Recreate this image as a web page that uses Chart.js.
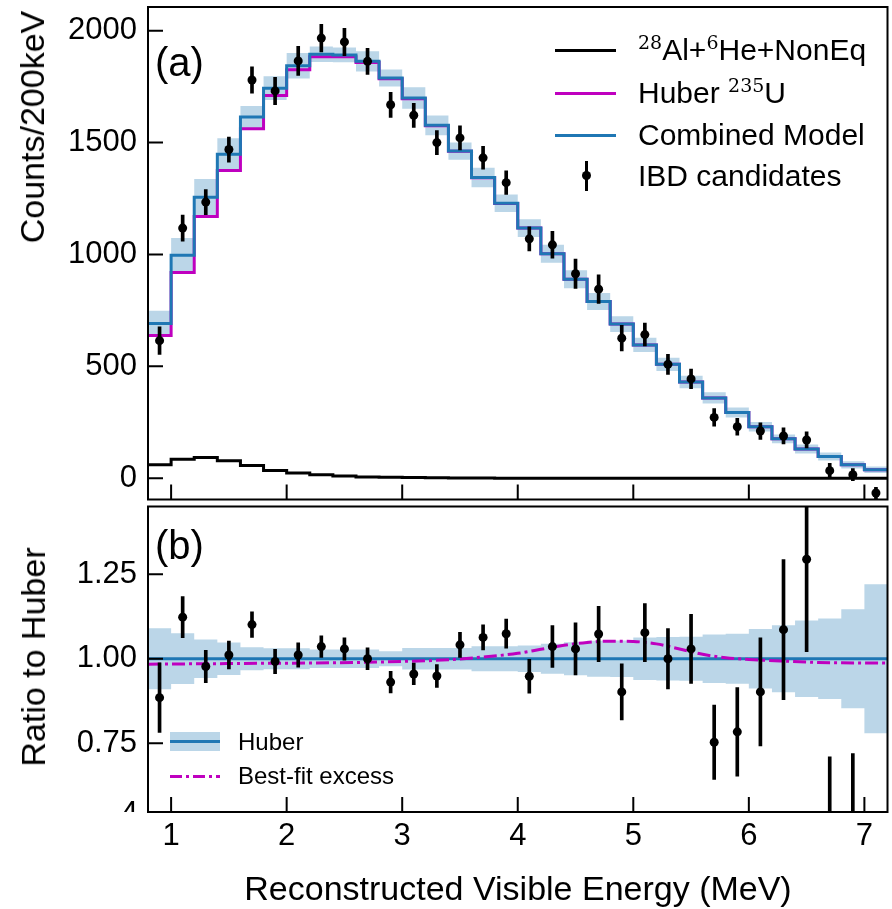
<!DOCTYPE html>
<html>
<head>
<meta charset="utf-8">
<script src="https://cdn.jsdelivr.net/npm/chart.js@4.4.0/dist/chart.umd.min.js"></script>
<style>
  body { margin: 0; background: #fff; }
  #wrap { position: relative; width: 892px; height: 909px; overflow: hidden;
          font-family: 'Liberation Sans', Arial, sans-serif; color: #000; }
  #topChart { position: absolute; left: 0; top: 0; }
  #ratioChart { position: absolute; left: 0; top: 502px; }
  .txt { position: absolute; white-space: nowrap; }
  .rot { transform: translate(-50%, -50%) rotate(-90deg); }
  .swatch { position: absolute; }
  sup { font-family: 'DejaVu Serif', serif; font-size: 19px; vertical-align: 11px; line-height: 0; }
</style>
</head>
<body>
<div id="wrap">
  <canvas id="topChart" width="892" height="504"></canvas>
  <canvas id="ratioChart" width="892" height="407"></canvas>

  <div class="txt rot" style="left:32px; top:127px; font-size:34px; line-height:34px;">Counts/200keV</div>
  <div class="txt rot" style="left:33px; top:657px; font-size:34px; line-height:34px;">Ratio to Huber</div>
  <div class="txt" style="left:518px; top:888px; transform:translate(-50%,-50%); font-size:34px; line-height:34px;">Reconstructed Visible Energy (MeV)</div>

  <div class="txt" style="left:155px; top:42px; font-size:40px; line-height:40px;">(a)</div>
  <div class="txt" style="left:155px; top:525px; font-size:40px; line-height:40px;">(b)</div>

  <!-- legend, panel (a) -->
  <div class="swatch" style="left:555px; top:49px; width:61px; height:3px; background:#000;"></div>
  <div class="swatch" style="left:555px; top:92px; width:61px; height:3px; background:#bf00bf;"></div>
  <div class="swatch" style="left:555px; top:134px; width:61px; height:3px; background:#1f77b4;"></div>
  <div class="swatch" style="left:585px; top:161px; width:3px; height:30px; background:#000;"></div>
  <div class="swatch" style="left:582px; top:171px; width:9px; height:9px; border-radius:50%; background:#000;"></div>
  <div class="txt" style="left:638px; top:35px; font-size:30px; line-height:30px;"><sup>28</sup>Al+<sup>6</sup>He+NonEq</div>
  <div class="txt" style="left:638px; top:78px; font-size:30px; line-height:30px;">Huber <sup>235</sup>U</div>
  <div class="txt" style="left:638px; top:120px; font-size:30px; line-height:30px;">Combined Model</div>
  <div class="txt" style="left:638px; top:161px; font-size:30px; line-height:30px;">IBD candidates</div>

  <!-- legend, panel (b) -->
  <div class="swatch" style="left:170px; top:732px; width:50px; height:19px; background:rgba(31,119,180,0.3);"></div>
  <div class="swatch" style="left:170px; top:740px; width:50px; height:3px; background:#1f77b4;"></div>
  <div class="swatch" style="left:170px; top:775px; width:50px; height:3px;
       background:repeating-linear-gradient(to right,#bf00bf 0 12px,transparent 12px 16px,#bf00bf 16px 19px,transparent 19px 23px);"></div>
  <div class="txt" style="left:238px; top:730px; font-size:24px; line-height:24px;">Huber</div>
  <div class="txt" style="left:238px; top:764px; font-size:24px; line-height:24px;">Best-fit excess</div>

  <div class="txt" style="left:108px; top:797px; width:30px; height:15px; overflow:hidden; text-align:right;">
    <span style="font-size:31px; line-height:31px;">4</span>
  </div>
</div>

<script>
// 200 keV bins
const binEdges = [0.8, 1.0, 1.2, 1.4, 1.6, 1.8, 2.0, 2.2, 2.4, 2.6, 2.8, 3.0, 3.2, 3.4, 3.6, 3.8, 4.0,
                  4.2, 4.4, 4.6, 4.8, 5.0, 5.2, 5.4, 5.6, 5.8, 6.0, 6.2, 6.4, 6.6, 6.8, 7.0, 7.2];
const binCenters = [0.9, 1.1, 1.3, 1.5, 1.7, 1.9, 2.1, 2.3, 2.5, 2.7, 2.9, 3.1, 3.3, 3.5, 3.7, 3.9,
                    4.1, 4.3, 4.5, 4.7, 4.9, 5.1, 5.3, 5.5, 5.7, 5.9, 6.1, 6.3, 6.5, 6.7, 6.9, 7.1];

// panel (a)
const combinedModel = [692, 997, 1256, 1448, 1614, 1743, 1843, 1895, 1892, 1863, 1789, 1699, 1577, 1462, 1344, 1229,
                       1118, 1003, 889, 790, 689, 596, 509, 430, 359, 294, 230, 176, 131, 97, 60, 38];
const huberU235 = [638, 919, 1170, 1375, 1562, 1710, 1826, 1884, 1884, 1858, 1785, 1696, 1575, 1461, 1343, 1228,
                   1118, 1003, 889, 790, 689, 596, 509, 430, 359, 294, 230, 176, 131, 97, 60, 38];
const bkgAlHe = [60, 85, 93, 78, 57, 35, 23, 16, 10, 5, 4, 3, 2, 1, 1, 0,
                 0, 0, 0, 0, 0, 0, 0, 0, 0, 0, 0, 0, 0, 0, 0, 0];
const modelErr = [56, 77, 81, 71, 50, 53, 57, 35, 33, 45, 38, 48, 44, 39, 44, 39,
                  40, 40, 40, 38, 35, 32, 30, 28, 25, 22, 21, 20, 20, 18, 16, 15];
const ibdCounts = [615, 1118, 1234, 1469, 1780, 1731, 1865, 1967, 1950, 1863, 1669, 1622, 1500, 1521, 1432, 1321,
                   1070, 1043, 914, 845, 626, 642, 509, 444, 272, 230, 211, 189, 171, 34, 16, -66];
const ibdErr = [62, 58, 56, 56, 59, 61, 65, 62, 61, 58, 56, 54, 54, 54, 51, 53,
                54, 60, 66, 64, 57, 51, 45, 44, 39, 38, 37, 36, 36, 33, 27, 25];

// panel (b)
const ratioVals = [0.885, 1.123, 0.977, 1.011, 1.101, 0.992, 1.011, 1.036, 1.029, 1.000, 0.931, 0.955, 0.949, 1.041, 1.063, 1.074,
                   0.948, 1.036, 1.029, 1.073, 0.902, 1.077, 1.000, 1.029, 0.753, 0.784, 0.902, 1.086, 1.294, 0.35, 0.27, -1.7];
const ratioErr = [0.103, 0.061, 0.048, 0.041, 0.038, 0.036, 0.036, 0.032, 0.033, 0.032, 0.032, 0.032, 0.034, 0.037, 0.037, 0.043,
                  0.050, 0.062, 0.077, 0.082, 0.083, 0.086, 0.089, 0.102, 0.110, 0.131, 0.160, 0.207, 0.273, 0.36, 0.45, 0.6];
const huberRelErr = [0.090, 0.075, 0.057, 0.048, 0.034, 0.031, 0.031, 0.027, 0.027, 0.027, 0.022, 0.032, 0.032, 0.032, 0.037, 0.037,
                     0.039, 0.044, 0.049, 0.053, 0.054, 0.063, 0.064, 0.065, 0.072, 0.074, 0.088, 0.099, 0.113, 0.119, 0.146, 0.220];
const excessE = [0.8, 1.6, 2.4, 3.0, 3.4, 3.7, 4.0, 4.2, 4.4, 4.6, 4.8, 5.0, 5.2, 5.4, 5.6, 5.8, 6.0, 6.3, 6.6, 7.2];
const excessRatio = [0.984, 0.986, 0.988, 0.992, 0.997, 1.005, 1.016, 1.028, 1.040, 1.048, 1.052, 1.051, 1.044, 1.029,
                     1.013, 1.003, 0.998, 0.993, 0.989, 0.987];

const energyTicks = [1, 2, 3, 4, 5, 6, 7];
const countTicks = [0, 500, 1000, 1500, 2000];
const ratioTicks = [0.75, 1.0, 1.25];

const BLUE = '#1f77b4';
const BAND = 'rgba(31,119,180,0.3)';
const MAGENTA = '#bf00bf';

Chart.defaults.font.family = "'Liberation Sans', Arial, sans-serif";
Chart.defaults.font.size = 31;
Chart.defaults.color = '#000';

// histogram outline: value i holds from edge i to edge i+1
function steps(vals) {
    return binEdges.map((e, i) => ({ x: e, y: vals[Math.min(i, vals.length - 1)] }));
}
function errBars(vals, errs) {
    return binCenters.map((c, i) => ({ x: c, y: [vals[i] - errs[i], vals[i] + errs[i]] }));
}
function points(vals) {
    return binCenters.map((c, i) => ({ x: c, y: vals[i] }));
}

// keep the plot box where it is, labels may overhang
function noPad(s) {
    s.paddingTop = 0; s.paddingBottom = 0; s.paddingLeft = 0; s.paddingRight = 0;
}

// box frame with inward ticks
const frameTicks = {
    id: 'frameTicks',
    afterDatasetsDraw(chart, args, opts) {
        const { ctx, chartArea: a, scales } = chart;
        ctx.save();
        ctx.strokeStyle = '#000';
        ctx.lineWidth = 2;
        ctx.beginPath();
        opts.x.forEach(v => {
            const px = scales.x.getPixelForValue(v);
            ctx.moveTo(px, a.bottom);
            ctx.lineTo(px, a.bottom - opts.len);
        });
        opts.y.forEach(v => {
            const py = scales.y.getPixelForValue(v);
            ctx.moveTo(a.left, py);
            ctx.lineTo(a.left + opts.len, py);
        });
        ctx.stroke();
        ctx.strokeRect(a.left, a.top, a.width, a.height);
        ctx.restore();
    }
};

const lineBase = { pointRadius: 0, fill: false, tension: 0 };

new Chart(document.getElementById('topChart'), {
    type: 'line',
    data: {
        datasets: [
            { ...lineBase, data: points(ibdCounts), showLine: false, pointRadius: 4.5,
              pointBackgroundColor: '#000', pointBorderWidth: 0, order: 0 },
            { type: 'bar', data: errBars(ibdCounts, ibdErr), backgroundColor: '#000',
              barThickness: 3, grouped: false, order: 1 },
            { ...lineBase, data: steps(combinedModel), stepped: true, borderColor: BLUE, borderWidth: 3, order: 2 },
            { ...lineBase, data: steps(huberU235), stepped: true, borderColor: MAGENTA, borderWidth: 3, order: 3 },
            { ...lineBase, data: steps(bkgAlHe), stepped: true, borderColor: '#000', borderWidth: 3, order: 4 },
            { ...lineBase, data: steps(combinedModel.map((v, i) => v + modelErr[i])), stepped: true,
              borderWidth: 0, order: 5 },
            { ...lineBase, data: steps(combinedModel.map((v, i) => v - modelErr[i])), stepped: true,
              borderWidth: 0, backgroundColor: BAND, fill: { target: 5 }, order: 6 }
        ]
    },
    options: {
        responsive: false,
        animation: false,
        events: [],
        layout: { padding: { left: 0, right: 4, top: 7, bottom: 1 } },
        plugins: {
            legend: { display: false },
            tooltip: { enabled: false },
            frameTicks: { x: energyTicks, y: countTicks, len: 15 }
        },
        scales: {
            x: { type: 'linear', min: 0.8, max: 7.2, offset: false, display: false, afterFit: noPad },
            y: {
                type: 'linear', min: -95, max: 2106,
                afterFit: s => { s.width = 148; noPad(s); },
                afterBuildTicks: s => { s.ticks = countTicks.map(v => ({ value: v })); },
                grid: { display: false, drawTicks: false },
                border: { display: false },
                ticks: { padding: 11, callback: v => String(v) }
            }
        }
    },
    plugins: [frameTicks]
});

new Chart(document.getElementById('ratioChart'), {
    type: 'line',
    data: {
        datasets: [
            { ...lineBase, data: points(ratioVals), showLine: false, pointRadius: 4.5,
              pointBackgroundColor: '#000', pointBorderWidth: 0, order: 0 },
            { type: 'bar', data: errBars(ratioVals, ratioErr), backgroundColor: '#000',
              barThickness: 3, grouped: false, order: 1 },
            { ...lineBase, data: excessE.map((e, i) => ({ x: e, y: excessRatio[i] })),
              borderColor: MAGENTA, borderWidth: 3, borderDash: [13, 4, 3, 4],
              cubicInterpolationMode: 'monotone', order: 2 },
            { ...lineBase, data: [{ x: 0.8, y: 1 }, { x: 7.2, y: 1 }], borderColor: BLUE, borderWidth: 3, order: 3 },
            { ...lineBase, data: steps(huberRelErr.map(r => 1 + r)), stepped: true, borderWidth: 0, order: 4 },
            { ...lineBase, data: steps(huberRelErr.map(r => 1 - r)), stepped: true, borderWidth: 0,
              backgroundColor: BAND, fill: { target: 4 }, order: 5 }
        ]
    },
    options: {
        responsive: false,
        animation: false,
        events: [],
        layout: { padding: { left: 0, right: 4, top: 1, bottom: 0 } },
        plugins: {
            legend: { display: false },
            tooltip: { enabled: false },
            frameTicks: { x: energyTicks, y: ratioTicks, len: 15 }
        },
        scales: {
            x: {
                type: 'linear', min: 0.8, max: 7.2, offset: false,
                afterFit: s => { s.height = 97; noPad(s); },
                afterBuildTicks: s => { s.ticks = energyTicks.map(v => ({ value: v })); },
                grid: { display: false, drawTicks: false },
                border: { display: false },
                ticks: { padding: 6, maxRotation: 0 }
            },
            y: {
                type: 'linear', min: 0.547, max: 1.45,
                afterFit: s => { s.width = 148; noPad(s); },
                afterBuildTicks: s => { s.ticks = ratioTicks.map(v => ({ value: v })); },
                grid: { display: false, drawTicks: false },
                border: { display: false },
                ticks: { padding: 11, callback: v => v.toFixed(2) }
            }
        }
    },
    plugins: [frameTicks]
});
</script>
</body>
</html>
